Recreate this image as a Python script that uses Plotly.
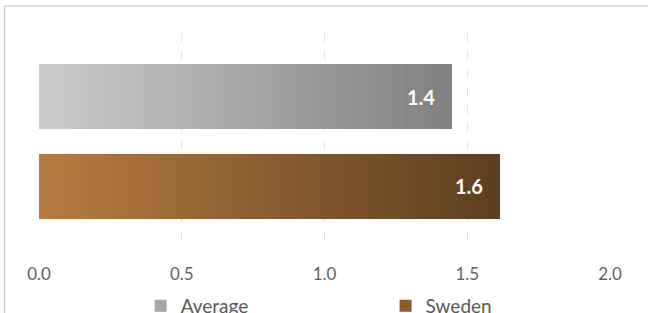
import plotly.graph_objects as go

categories = ["Sweden", "Average"]
values = [1.615, 1.448]
tick_vals = [0.0, 0.5, 1.0, 1.5, 2.0]
tick_text = ["0.0", "0.5", "1.0", "1.5", "2.0"]
legend_names = ["Average", "Sweden"]

grad = {
    "Average": ((0xcc, 0xcc, 0xcc), (0x80, 0x80, 0x80)),
    "Sweden": ((0xb7, 0x7c, 0x40), (0x5c, 0x3e, 0x20)),
}
legend_color = {"Average": "#a6a6a6", "Sweden": "#8a5c2f"}

N = 60
FONT = "Lato"

fig = go.Figure()

def mix(c0, c1, t):
    return "rgb(%d,%d,%d)" % tuple(round(a + (b - a) * t) for a, b in zip(c0, c1))

for cat, val in zip(categories, values):
    c0, c1 = grad[cat]
    for i in range(N):
        fig.add_trace(go.Bar(
            y=[cat], x=[val / N], orientation="h",
            marker=dict(color=mix(c0, c1, (i + 0.5) / N), line=dict(width=0)),
            showlegend=False, hoverinfo="skip", width=0.726,
        ))

# legend entries
for name, lg in zip(legend_names, ["legend", "legend2"]):
    fig.add_trace(go.Bar(
        y=[None], x=[None], orientation="h", name=name,
        marker=dict(color=legend_color[name], line=dict(width=0)),
        showlegend=True, legend=lg,
    ))

for cat, val in zip(categories, values):
    fig.add_annotation(
        x=val, y=cat, text=f"<b>{val:.1f}</b>", showarrow=False,
        xanchor="right", xshift=-15, yshift=0,
        font=dict(family=FONT, size=20, color="white"),
    )

fig.add_shape(type="rect", xref="paper", yref="paper",
              x0=-0.0604, x1=1.3, y0=-0.6, y1=1.1244,
              line=dict(color="#c4c4c4", width=1.2), fillcolor="rgba(0,0,0,0)",
              layer="above")

leg_common = dict(orientation="h", yanchor="middle", xanchor="left", itemwidth=30,
                  font=dict(family=FONT, size=19, color="#595959"),
                  bgcolor="rgba(0,0,0,0)")

fig.update_layout(
    width=648, height=313,
    margin=dict(l=39, r=38, t=33, b=63, autoexpand=False),
    paper_bgcolor="white", plot_bgcolor="white",
    barmode="stack", bargap=0,
    font=dict(family=FONT, color="#595959"),
    xaxis=dict(range=[0, 2], tickvals=tick_vals, ticktext=tick_text,
               showgrid=True, gridcolor="#e3e3e3", griddash="dash", gridwidth=1,
               zeroline=False, showline=False, ticks="",
               tickfont=dict(family=FONT, size=17, color="#5f5f5f"),
               ticklabelstandoff=12, fixedrange=True),
    yaxis=dict(range=[-0.7125, 1.7125], showticklabels=False, showgrid=False,
               zeroline=False, showline=False, ticks="", type="category",
               categoryorder="array", categoryarray=categories, fixedrange=True),
    showlegend=True,
    legend=dict(x=0.178, y=-0.258, **leg_common),
    legend2=dict(x=0.607, y=-0.258, **leg_common),
)

fig.write_html("out.html", config={"displayModeBar": False},
               post_script="document.body.style.margin='0';")
